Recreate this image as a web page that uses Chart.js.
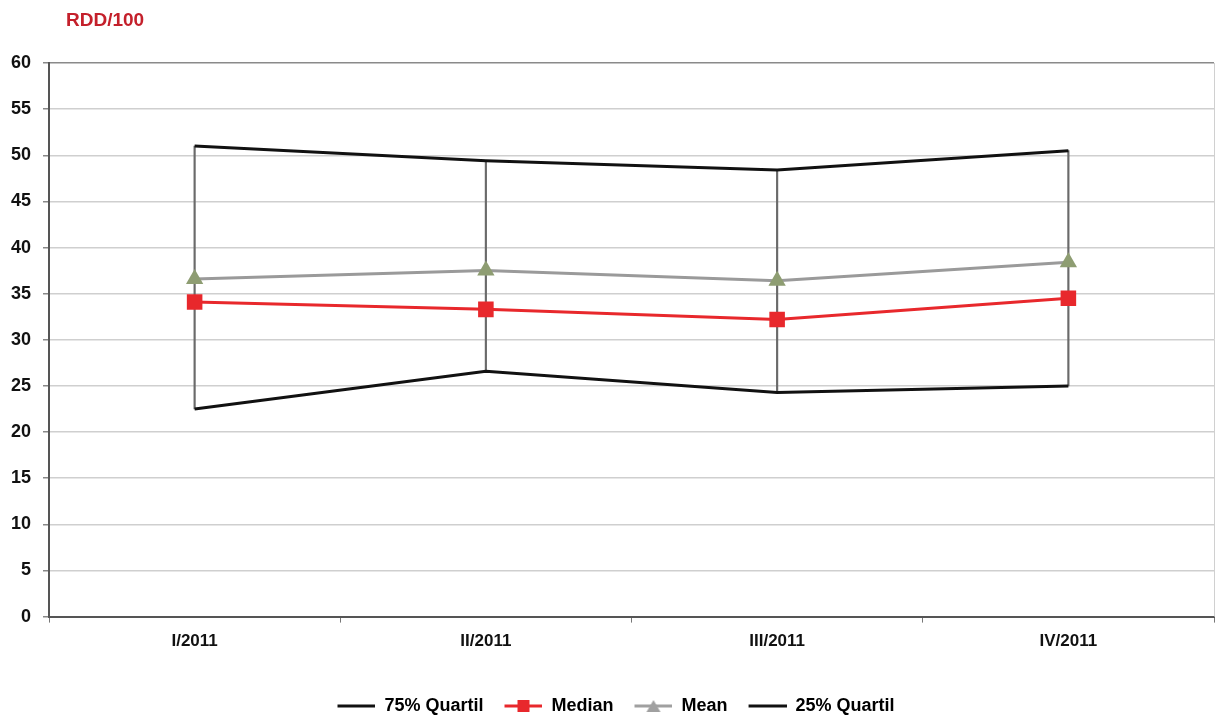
<!DOCTYPE html>
<html lang="en">
<head>
    <meta charset="UTF-8">
    <title>RDD/100</title>
    <style>
        body {
            margin: 0;
            background: #ffffff;
            overflow: hidden;
        }
        .chart-box {
            position: relative;
            width: 1217px;
            height: 715px;
        }
        .chart-title {
            position: absolute;
            left: 66px;
            top: 9px;
            font-family: 'Liberation Sans', Arial, sans-serif;
            font-size: 19px;
            font-weight: bold;
            color: #c4202b;
        }
    </style>
    <script src="https://cdn.jsdelivr.net/npm/chart.js"></script>
</head>
<body>
    <div class="chart-box">
        <div class="chart-title">RDD/100</div>
        <canvas id="rddChart" width="1217" height="715"></canvas>
    </div>

    <script>
        // Data
        const quarters = ['I/2011', 'II/2011', 'III/2011', 'IV/2011'];
        const quartil75 = [51.0, 49.4, 48.4, 50.5];
        const median = [34.1, 33.3, 32.2, 34.5];
        const mean = [36.6, 37.5, 36.4, 38.4];
        const quartil25 = [22.5, 26.6, 24.3, 25.0];

        const FONT = "'Liberation Sans', Arial, sans-serif";

        // legend icon: blank gap, then a line with a marker in the middle
        const GAP = 18;
        function legendIcon(lineColor, marker, markerColor) {
            const c = document.createElement('canvas');
            c.width = GAP + 38;
            c.height = 14;
            const g = c.getContext('2d');
            g.strokeStyle = lineColor;
            g.lineWidth = 3;
            g.beginPath();
            g.moveTo(GAP, 7);
            g.lineTo(GAP + 38, 7);
            g.stroke();
            g.fillStyle = markerColor;
            const m = GAP + 19;
            if (marker === 'rect') {
                g.fillRect(m - 6, 1, 12, 12);
            } else if (marker === 'triangle') {
                g.beginPath();
                g.moveTo(m, 1);
                g.lineTo(m + 7, 13);
                g.lineTo(m - 7, 13);
                g.closePath();
                g.fill();
            }
            return c;
        }

        const icons = [
            legendIcon('#111111'),
            legendIcon('#e8282c', 'rect', '#e8282c'),
            legendIcon('#a0a0a0', 'triangle', '#a0a0a0'),
            legendIcon('#111111')
        ];

        // thin light border on the right of the plot area
        const rightBorder = {
            id: 'rightBorder',
            afterDraw(chart) {
                const a = chart.chartArea;
                const g = chart.ctx;
                g.save();
                g.strokeStyle = '#d0d0d0';
                g.lineWidth = 1;
                g.beginPath();
                g.moveTo(a.right + 0.5, a.top);
                g.lineTo(a.right + 0.5, a.bottom);
                g.stroke();
                g.restore();
            }
        };

        const ctx = document.getElementById('rddChart').getContext('2d');
        new Chart(ctx, {
            data: {
                labels: quarters,
                datasets: [
                    {
                        type: 'line',
                        label: '75% Quartil',
                        data: quartil75,
                        borderColor: '#111111',
                        borderWidth: 3,
                        pointRadius: 0,
                        tension: 0,
                        order: 4
                    },
                    {
                        type: 'line',
                        label: 'Median',
                        data: median,
                        borderColor: '#e8282c',
                        backgroundColor: '#e8282c',
                        borderWidth: 3,
                        pointStyle: 'rect',
                        pointRadius: 11,
                        pointBorderWidth: 0,
                        tension: 0,
                        order: 1
                    },
                    {
                        type: 'line',
                        label: 'Mean',
                        data: mean,
                        borderColor: '#9a9a9a',
                        backgroundColor: '#8e9d72',
                        borderWidth: 3,
                        pointStyle: 'triangle',
                        pointRadius: 10,
                        pointBorderWidth: 0,
                        tension: 0,
                        order: 2
                    },
                    {
                        type: 'line',
                        label: '25% Quartil',
                        data: quartil25,
                        borderColor: '#111111',
                        borderWidth: 3,
                        pointRadius: 0,
                        tension: 0,
                        order: 3
                    },
                    {
                        // high-low connectors
                        type: 'bar',
                        label: 'range',
                        data: quartil25.map((lo, i) => [lo, quartil75[i]]),
                        backgroundColor: '#6a6a6a',
                        barThickness: 1.5,
                        order: 5
                    }
                ]
            },
            options: {
                responsive: false,
                animation: false,
                layout: {
                    autoPadding: false,
                    padding: { left: 0, right: 3, top: 63, bottom: -10 }
                },
                plugins: {
                    title: { display: false },
                    legend: {
                        position: 'bottom',
                        labels: {
                            usePointStyle: true,
                            pointStyleWidth: GAP + 38,
                            color: '#111111',
                            font: { family: FONT, size: 18, weight: 'bold' },
                            padding: 3,
                            filter: item => item.datasetIndex < 4,
                            generateLabels: chart => chart.data.datasets.map((ds, i) => ({
                                text: ds.label,
                                pointStyle: icons[i] || 'line',
                                fillStyle: 'transparent',
                                strokeStyle: 'transparent',
                                lineWidth: 0,
                                datasetIndex: i,
                                hidden: false
                            }))
                        }
                    },
                    tooltip: { enabled: false }
                },
                scales: {
                    x: {
                        offset: true,
                        afterFit: scale => { scale.height += 33; },
                        grid: {
                            offset: true,
                            drawOnChartArea: false,
                            tickLength: 6,
                            color: '#777777'
                        },
                        border: { color: '#555555', width: 2 },
                        ticks: {
                            color: '#111111',
                            padding: 9,
                            font: { family: FONT, size: 17, weight: 'bold' }
                        }
                    },
                    y: {
                        min: 0,
                        max: 60,
                        afterFit: scale => { scale.width = 49; },
                        ticks: {
                            stepSize: 5,
                            color: '#111111',
                            padding: 12,
                            font: { family: FONT, size: 18, weight: 'bold' }
                        },
                        grid: {
                            color: c => c.tick && c.tick.value === 60 ? '#8a8a8a' : '#cfcfcf',
                            lineWidth: 1.5,
                            tickLength: 6,
                            tickColor: '#888888'
                        },
                        border: { color: '#555555', width: 2 }
                    }
                }
            },
            plugins: [rightBorder]
        });
    </script>
</body>
</html>
